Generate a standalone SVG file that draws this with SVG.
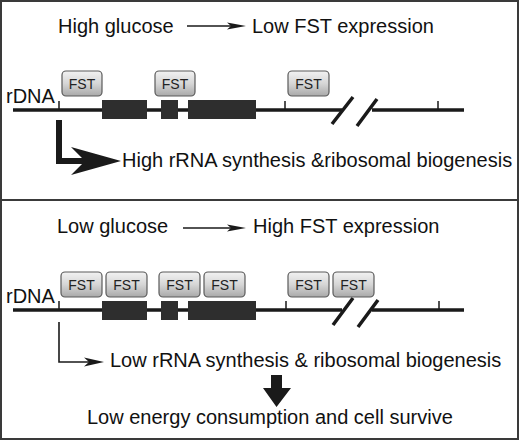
<svg xmlns="http://www.w3.org/2000/svg" width="520" height="441" viewBox="0 0 520 441">
<defs>
<linearGradient id="fstGrad" x1="0" y1="0" x2="0" y2="1">
<stop offset="0" stop-color="#f2f2f2"/>
<stop offset="0.5" stop-color="#d6d6d6"/>
<stop offset="1" stop-color="#a9a9a9"/>
</linearGradient>
</defs>
<style>
text{font-family:"Liberation Sans",Arial,sans-serif;fill:#111;}
.t{font-size:20px;}
.fst rect{fill:url(#fstGrad);stroke:#5a5a5a;stroke-width:1.2;}
.fst text{font-size:14px;fill:#222;text-anchor:middle;}
.dna{stroke:#1a1a1a;stroke-width:3.5;fill:none;}
.tick{stroke:#1a1a1a;stroke-width:1.5;fill:none;}
.exon{fill:#2e2e2e;}
.slash{stroke:#1a1a1a;stroke-width:3.5;fill:none;}
.thin{stroke:#1a1a1a;stroke-width:1.6;fill:none;}
.head{fill:#1a1a1a;}
</style>
<rect x="1" y="1" width="517" height="438" fill="#fff" stroke="#3a3a3a" stroke-width="2"/>
<line x1="1" y1="200" x2="518" y2="200" stroke="#3a3a3a" stroke-width="2"/>

<!-- Top panel -->
<g id="top-title">
<text class="t" x="58" y="33">High glucose</text>
<text class="t" x="252" y="33">Low FST expression</text>
</g>
<g id="top-rdna">
<text class="t" x="6" y="103">rDNA</text>
<path class="dna" d="M13 110H342M372 110H464"/>
<path class="tick" d="M59 101V110M285 101V110M438 101V110"/>
<rect class="exon" x="102" y="100" width="45" height="19"/>
<rect class="exon" x="161" y="100" width="17" height="19"/>
<rect class="exon" x="188" y="100" width="68" height="19"/>
<path class="slash" d="M332 124L353 97M357 126L377 99"/>
</g>
<g id="top-fst1" class="fst"><rect x="62" y="71" width="40" height="25" rx="4"/><text x="82" y="88.5">FST</text></g>
<g id="top-fst2" class="fst"><rect x="155" y="71" width="40" height="25" rx="4"/><text x="175" y="88.5">FST</text></g>
<g id="top-fst3" class="fst"><rect x="288" y="71" width="41" height="25" rx="4"/><text x="308.5" y="88.5">FST</text></g>
<g id="top-result">
<text class="t" x="122" y="167">High rRNA synthesis &amp;ribosomal biogenesis</text>
</g>

<!-- Bottom panel -->
<g id="bottom-title">
<text class="t" x="57" y="233">Low glucose</text>
<text class="t" x="253" y="233">High FST expression</text>
</g>
<g id="bottom-rdna">
<text class="t" x="6" y="303">rDNA</text>
<path class="dna" d="M13 310H342M372 310H464"/>
<path class="tick" d="M59 301V310M286 301V310M439 301V310"/>
<rect class="exon" x="102" y="301" width="45" height="19"/>
<rect class="exon" x="161" y="301" width="17" height="19"/>
<rect class="exon" x="188" y="301" width="68" height="19"/>
<path class="slash" d="M333 325L353 298M358 327L378 300"/>
</g>
<g id="bottom-fst1" class="fst"><rect x="61" y="272" width="41" height="25" rx="4"/><text x="81.5" y="289.5">FST</text></g>
<g id="bottom-fst2" class="fst"><rect x="106" y="272" width="41" height="25" rx="4"/><text x="126.5" y="289.5">FST</text></g>
<g id="bottom-fst3" class="fst"><rect x="159" y="272" width="41" height="25" rx="4"/><text x="179.5" y="289.5">FST</text></g>
<g id="bottom-fst4" class="fst"><rect x="204" y="272" width="41" height="25" rx="4"/><text x="224.5" y="289.5">FST</text></g>
<g id="bottom-fst5" class="fst"><rect x="288" y="272" width="41" height="25" rx="4"/><text x="308.5" y="289.5">FST</text></g>
<g id="bottom-fst6" class="fst"><rect x="333" y="272" width="41" height="25" rx="4"/><text x="353.5" y="289.5">FST</text></g>
<g id="bottom-result">
<text class="t" x="110" y="367">Low rRNA synthesis &amp; ribosomal biogenesis</text>
</g>
<g id="bottom-outcome">
<text class="t" x="87" y="424">Low energy consumption and cell survive</text>
</g>

<!-- Connectors -->
<g id="connectors">
<path class="thin" d="M187 26H236"/>
<path class="head" d="M227 22.5L246 26L227 29.5L231 26Z"/>
<path class="thin" d="M183 228H236"/>
<path class="head" d="M227 224.5L246 228L227 231.5L231 228Z"/>
<path d="M59 120V161H88" stroke="#1a1a1a" stroke-width="6" fill="none" stroke-linejoin="miter"/>
<path class="head" d="M71 147L121 161L71 175L85 161Z"/>
<path class="thin" d="M59 322V362H94"/>
<path class="head" d="M84 357.5L104 362L84 366.5L89 362Z"/>
<path class="head" d="M271 375H282V388H291L276.5 407L263 388H271Z"/>
</g>
</svg>
